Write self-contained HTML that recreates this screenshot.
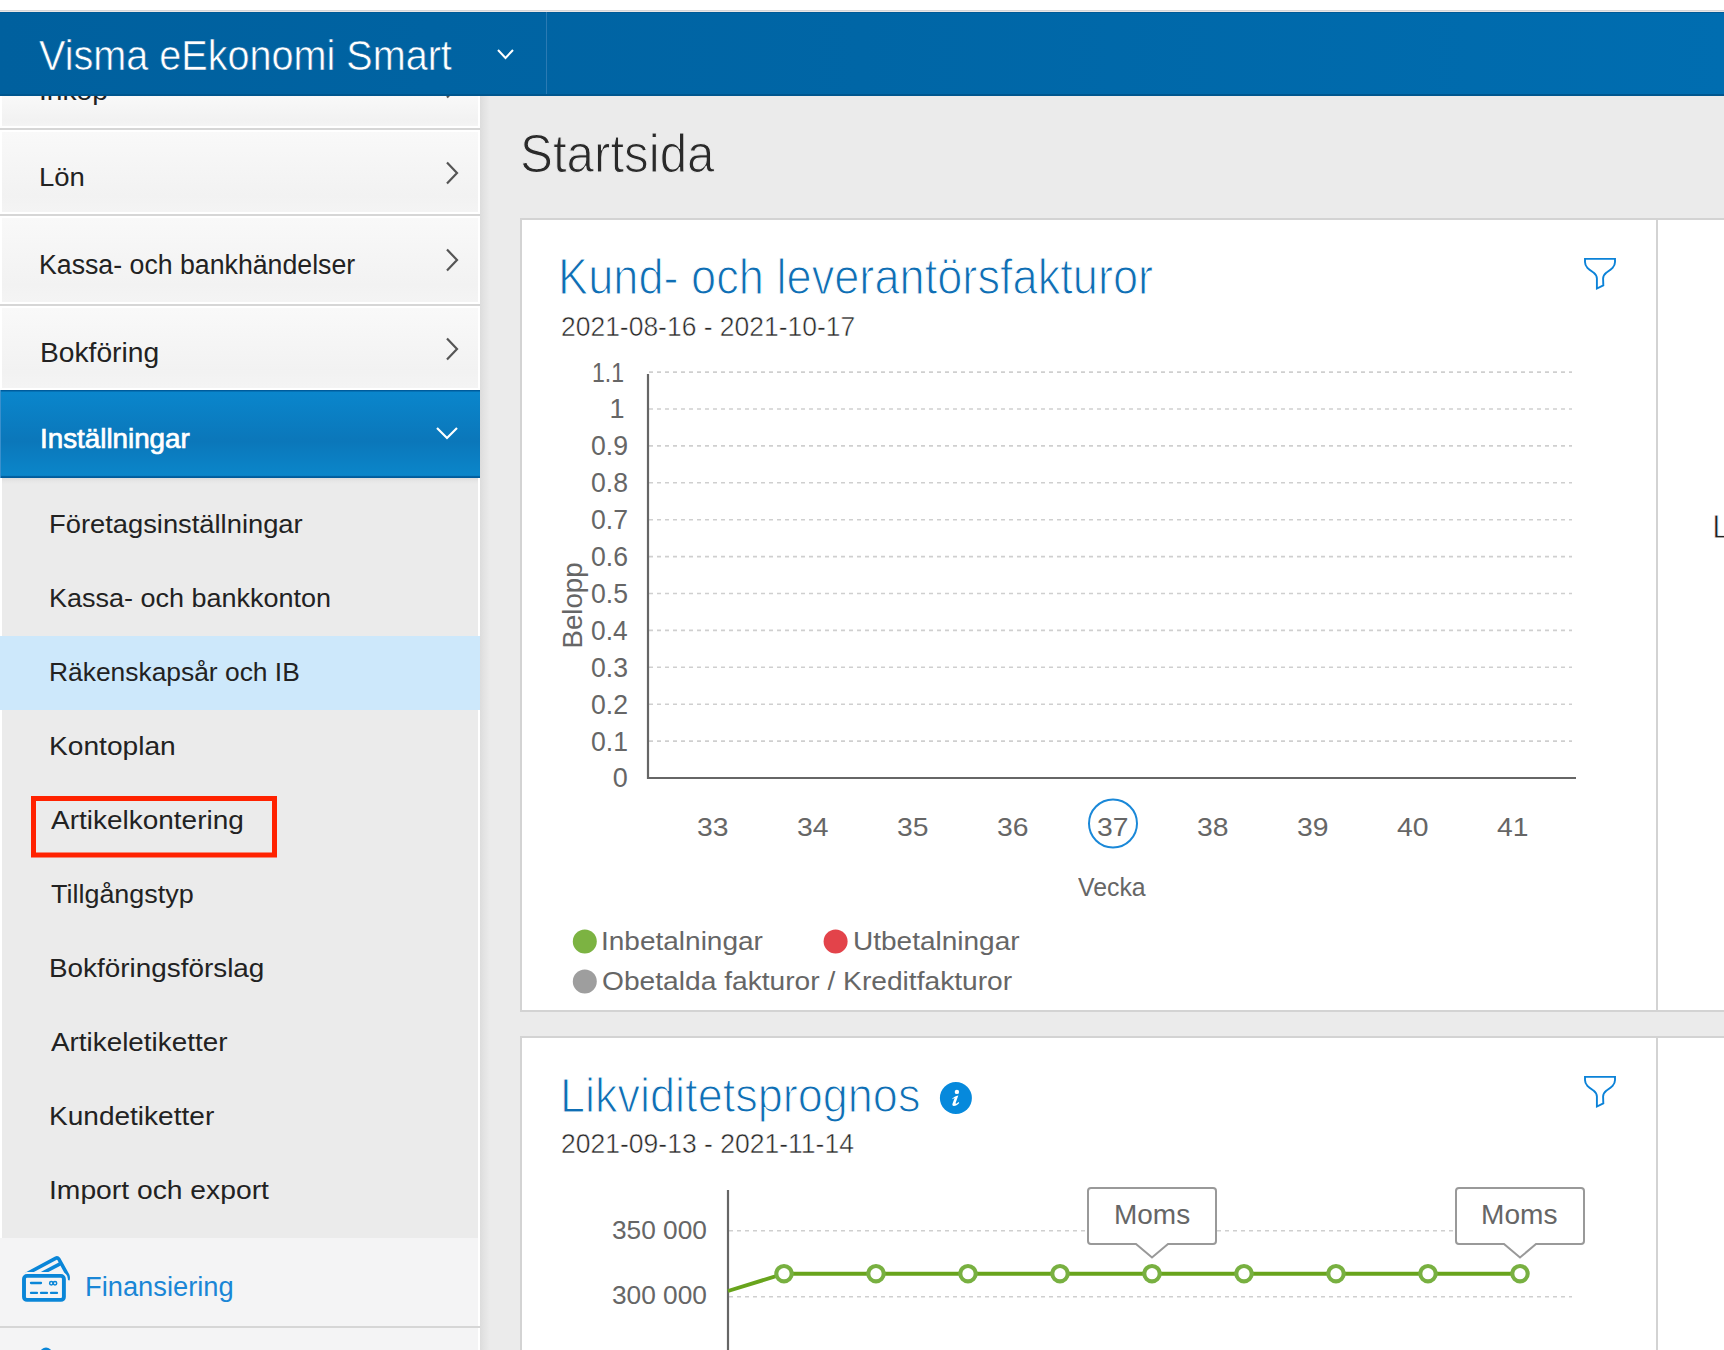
<!DOCTYPE html>
<html><head><meta charset="utf-8"><title>Visma eEkonomi Smart - Startsida</title>
<style>
html,body{margin:0;padding:0}
body{width:1724px;height:1350px;overflow:hidden;position:relative;background:#ebebeb;font-family:"Liberation Sans",sans-serif}
.abs{position:absolute}
.t{position:absolute;white-space:nowrap;transform-origin:0 0;font-family:"Liberation Sans",sans-serif;z-index:2}
svg.abs{z-index:1}
#topstrip{left:0;top:0;width:1724px;height:10px;background:#fff;border-bottom:1px solid #d4d5d8;box-shadow:0 1px 0 #e9e6e5}
#header{left:0;top:12px;width:1724px;height:84px;background:linear-gradient(90deg,#00609e 0%,#0066a6 50%,#006db0 100%);box-shadow:inset 0 -2px 0 #00568e}
#hsep{left:546px;top:12px;width:1px;height:82px;background:#2b7ab3}
#sidebar{left:0;top:96px;width:480px;height:1254px;background:#fff}
.item{position:absolute;left:2px;width:476px;background:linear-gradient(#f9f9f9,#f5f5f5 45%,#f2f2f2 80%,#f4f4f4)}
.sep{position:absolute;left:0;width:480px;height:2px;background:#d6d6d6}
#active{left:0;top:390px;width:480px;height:88px;background:linear-gradient(#005c9c 0,#005c9c 1px,#0a86cc 2px,#0b77ba 58%,#0b86ca 97%,#005c9c 98.5%);box-shadow:inset 1px 0 0 #3a8fcc}
#submenu{left:2px;top:478px;width:476px;height:760px;background:linear-gradient(#dcdcdc 0,#e6e6e6 3px,#ebebeb 6px)}
#hl{left:0;top:636px;width:480px;height:74px;background:#cde8fb}
#shadow{left:480px;top:96px;width:10px;height:1254px;background:linear-gradient(90deg,#dcdcdc 0,#e3e3e3 4px,#ebebeb 10px)}
#card1{left:520px;top:218px;width:1204px;height:794px;background:#fff;box-sizing:border-box;border:2px solid #d3d3d3;border-right:none}
#card2{left:520px;top:1036px;width:1204px;height:400px;background:#fff;box-sizing:border-box;border:2px solid #d3d3d3;border-right:none}
.vdiv{position:absolute;left:1656px;width:2px;background:#d3d3d3}
</style></head>
<body>
<div id="topstrip" class="abs"></div>
<div id="header" class="abs"></div>
<div id="hsep" class="abs"></div>
<div id="sidebar" class="abs">
</div>
<div class="item" style="top:96px;height:30px"></div>
<div class="sep" style="top:128px"></div>
<div class="item" style="top:132px;height:80px"></div>
<div class="sep" style="top:214px"></div>
<div class="item" style="top:218px;height:84px"></div>
<div class="sep" style="top:304px"></div>
<div class="item" style="top:308px;height:80px"></div>
<div id="active" class="abs"></div>
<div id="submenu" class="abs"></div>
<div id="hl" class="abs"></div>
<div class="item" style="top:1238px;left:0;width:478px;height:88px;background:#f4f4f5"></div>
<div class="sep" style="top:1326px"></div>
<div class="item" style="top:1328px;left:0;width:478px;height:22px;background:#f4f4f5"></div>
<div id="shadow" class="abs"></div>
<div id="card1" class="abs"></div>
<div class="vdiv" style="top:220px;height:790px"></div>
<div id="card2" class="abs"></div>
<div class="vdiv" style="top:1038px;height:312px"></div>
<span class="t" style="z-index:6;left:39.30px;top:34.70px;font-size:41.96px;line-height:42px;color:#fff;font-weight:normal;transform:scaleX(0.9435);-webkit-text-stroke:0.6px #0062a0;">Visma eEkonomi Smart</span>
<span class="t" style="left:39.20px;top:77.50px;font-size:26.60px;line-height:27px;color:#222;font-weight:normal;transform:scaleX(1.0597);">Inköp</span>
<span class="t" style="left:39.25px;top:163.60px;font-size:26.60px;line-height:27px;color:#222;font-weight:normal;transform:scaleX(1.0343);">Lön</span>
<span class="t" style="left:39.31px;top:251.80px;font-size:26.74px;line-height:27px;color:#222;font-weight:normal;transform:scaleX(0.9988);">Kassa- och bankhändelser</span>
<span class="t" style="left:39.60px;top:338.50px;font-size:27.59px;line-height:28px;color:#222;font-weight:normal;transform:scaleX(1.0225);">Bokföring</span>
<span class="t" style="left:39.63px;top:424.80px;font-size:27.31px;line-height:27px;color:#fff;font-weight:normal;transform:scaleX(1.0174);-webkit-text-stroke:0.7px #fff;">Inställningar</span>
<span class="t" style="left:49.17px;top:511.40px;font-size:26.60px;line-height:27px;color:#222;font-weight:normal;transform:scaleX(1.0275);">Företagsinställningar</span>
<span class="t" style="left:49.19px;top:585.40px;font-size:26.60px;line-height:27px;color:#222;font-weight:normal;transform:scaleX(1.0146);">Kassa- och bankkonton</span>
<span class="t" style="left:49.24px;top:659.40px;font-size:26.60px;line-height:27px;color:#222;font-weight:normal;transform:scaleX(0.9920);">Räkenskapsår och IB</span>
<span class="t" style="left:49.10px;top:733.40px;font-size:26.60px;line-height:27px;color:#222;font-weight:normal;transform:scaleX(1.0584);">Kontoplan</span>
<span class="t" style="left:51.30px;top:807.40px;font-size:26.60px;line-height:27px;color:#222;font-weight:normal;transform:scaleX(1.0517);">Artikelkontering</span>
<span class="t" style="left:50.88px;top:881.40px;font-size:26.60px;line-height:27px;color:#222;font-weight:normal;transform:scaleX(1.0127);">Tillgångstyp</span>
<span class="t" style="left:49.12px;top:955.40px;font-size:26.60px;line-height:27px;color:#222;font-weight:normal;transform:scaleX(1.0480);">Bokföringsförslag</span>
<span class="t" style="left:51.30px;top:1029.40px;font-size:26.60px;line-height:27px;color:#222;font-weight:normal;transform:scaleX(1.0471);">Artikeletiketter</span>
<span class="t" style="left:49.11px;top:1103.40px;font-size:26.60px;line-height:27px;color:#222;font-weight:normal;transform:scaleX(1.0543);">Kundetiketter</span>
<span class="t" style="left:49.09px;top:1177.40px;font-size:26.60px;line-height:27px;color:#222;font-weight:normal;transform:scaleX(1.0626);">Import och export</span>
<span class="t" style="left:84.87px;top:1273.00px;font-size:28.16px;line-height:28px;color:#1a86d6;font-weight:normal;transform:scaleX(0.9692);">Finansiering</span>
<span class="t" style="left:519.61px;top:127.15px;font-size:54.33px;line-height:54px;color:#2a2a2a;font-weight:normal;transform:scaleX(0.9073);-webkit-text-stroke:1.1px #ebebeb;">Startsida</span>
<span class="t" style="left:558.37px;top:252.40px;font-size:50.06px;line-height:50px;color:#0f6eb4;font-weight:normal;transform:scaleX(0.9027);-webkit-text-stroke:1.2px #fff;">Kund- och leverantörsfakturor</span>
<span class="t" style="left:561.01px;top:312.75px;font-size:27.16px;line-height:27px;color:#2a2a2a;font-weight:normal;transform:scaleX(0.9744);-webkit-text-stroke:0.5px #fff;">2021-08-16 - 2021-10-17</span>
<span class="t" style="left:559.58px;top:1071.60px;font-size:47.22px;line-height:47px;color:#0f6eb4;font-weight:normal;transform:scaleX(0.9536);-webkit-text-stroke:1.2px #fff;">Likviditetsprognos</span>
<span class="t" style="left:561.01px;top:1130.45px;font-size:28.02px;line-height:28px;color:#2a2a2a;font-weight:normal;transform:scaleX(0.9465);-webkit-text-stroke:0.5px #fff;">2021-09-13 - 2021-11-14</span>
<span class="t" style="left:591.86px;top:359.50px;font-size:27.02px;line-height:27px;color:#666;font-weight:normal;transform:scaleX(0.8539);">1.1</span>
<span class="t" style="left:609.57px;top:396.40px;font-size:27.02px;line-height:27px;color:#666;font-weight:normal;transform:scaleX(1.0000);">1</span>
<span class="t" style="left:591.17px;top:433.30px;font-size:27.02px;line-height:27px;color:#666;font-weight:normal;transform:scaleX(0.9853);">0.9</span>
<span class="t" style="left:591.17px;top:470.20px;font-size:27.02px;line-height:27px;color:#666;font-weight:normal;transform:scaleX(0.9853);">0.8</span>
<span class="t" style="left:591.17px;top:507.10px;font-size:27.02px;line-height:27px;color:#666;font-weight:normal;transform:scaleX(0.9853);">0.7</span>
<span class="t" style="left:591.17px;top:544.00px;font-size:27.02px;line-height:27px;color:#666;font-weight:normal;transform:scaleX(0.9853);">0.6</span>
<span class="t" style="left:591.17px;top:580.90px;font-size:27.02px;line-height:27px;color:#666;font-weight:normal;transform:scaleX(0.9853);">0.5</span>
<span class="t" style="left:591.18px;top:617.80px;font-size:27.02px;line-height:27px;color:#666;font-weight:normal;transform:scaleX(0.9737);">0.4</span>
<span class="t" style="left:591.17px;top:654.70px;font-size:27.02px;line-height:27px;color:#666;font-weight:normal;transform:scaleX(0.9853);">0.3</span>
<span class="t" style="left:591.17px;top:691.60px;font-size:27.02px;line-height:27px;color:#666;font-weight:normal;transform:scaleX(0.9853);">0.2</span>
<span class="t" style="left:591.17px;top:728.50px;font-size:27.02px;line-height:27px;color:#666;font-weight:normal;transform:scaleX(0.9853);">0.1</span>
<span class="t" style="left:612.74px;top:765.40px;font-size:27.02px;line-height:27px;color:#666;font-weight:normal;transform:scaleX(1.0000);">0</span>
<span class="t" style="left:697.08px;top:813.50px;font-size:25.74px;line-height:26px;color:#666;font-weight:normal;transform:scaleX(1.1000);">33</span>
<span class="t" style="left:796.86px;top:813.50px;font-size:25.74px;line-height:26px;color:#666;font-weight:normal;transform:scaleX(1.1000);">34</span>
<span class="t" style="left:897.08px;top:813.50px;font-size:25.74px;line-height:26px;color:#666;font-weight:normal;transform:scaleX(1.1000);">35</span>
<span class="t" style="left:997.08px;top:813.50px;font-size:25.74px;line-height:26px;color:#666;font-weight:normal;transform:scaleX(1.1000);">36</span>
<span class="t" style="left:1097.08px;top:813.50px;font-size:25.74px;line-height:26px;color:#666;font-weight:normal;transform:scaleX(1.1000);">37</span>
<span class="t" style="left:1197.08px;top:813.50px;font-size:25.74px;line-height:26px;color:#666;font-weight:normal;transform:scaleX(1.1000);">38</span>
<span class="t" style="left:1297.08px;top:813.50px;font-size:25.74px;line-height:26px;color:#666;font-weight:normal;transform:scaleX(1.1000);">39</span>
<span class="t" style="left:1397.08px;top:813.50px;font-size:25.74px;line-height:26px;color:#666;font-weight:normal;transform:scaleX(1.1000);">40</span>
<span class="t" style="left:1497.30px;top:813.50px;font-size:25.74px;line-height:26px;color:#666;font-weight:normal;transform:scaleX(1.1000);">41</span>
<span class="t" style="left:1077.70px;top:874.20px;font-size:26.17px;line-height:26px;color:#666;font-weight:normal;transform:scaleX(0.9489);">Vecka</span>
<span class="t" style="left:601.01px;top:928.00px;font-size:25.60px;line-height:26px;color:#666;font-weight:normal;transform:scaleX(1.0939);">Inbetalningar</span>
<span class="t" style="left:852.55px;top:928.00px;font-size:25.60px;line-height:26px;color:#666;font-weight:normal;transform:scaleX(1.0940);">Utbetalningar</span>
<span class="t" style="left:601.88px;top:967.50px;font-size:25.60px;line-height:26px;color:#666;font-weight:normal;transform:scaleX(1.1005);">Obetalda fakturor / Kreditfakturor</span>
<span class="t" style="left:611.68px;top:1216.80px;font-size:26.31px;line-height:26px;color:#666;font-weight:normal;transform:scaleX(0.9986);">350 000</span>
<span class="t" style="left:611.68px;top:1282.40px;font-size:26.17px;line-height:26px;color:#666;font-weight:normal;transform:scaleX(1.0040);">300 000</span>
<span class="t" style="left:1113.51px;top:1201.00px;font-size:27.31px;line-height:27px;color:#666;font-weight:normal;transform:scaleX(1.0246);">Moms</span>
<span class="t" style="left:1481.41px;top:1201.00px;font-size:27.31px;line-height:27px;color:#666;font-weight:normal;transform:scaleX(1.0288);">Moms</span>
<span class="t" style="left:1711.98px;top:509.60px;font-size:33.56px;line-height:34px;color:#222;font-weight:normal;transform:scaleX(1.0000);-webkit-text-stroke:0.8px #fff;">L</span>
<svg class="abs" style="left:0;top:0" width="1724" height="1350" viewBox="0 0 1724 1350">
<line x1="649" y1="372.1" x2="1572" y2="372.1" stroke="#cfcfcf" stroke-width="1.6" stroke-dasharray="4 4"/><line x1="649" y1="409.0" x2="1572" y2="409.0" stroke="#cfcfcf" stroke-width="1.6" stroke-dasharray="4 4"/><line x1="649" y1="445.9" x2="1572" y2="445.9" stroke="#cfcfcf" stroke-width="1.6" stroke-dasharray="4 4"/><line x1="649" y1="482.8" x2="1572" y2="482.8" stroke="#cfcfcf" stroke-width="1.6" stroke-dasharray="4 4"/><line x1="649" y1="519.7" x2="1572" y2="519.7" stroke="#cfcfcf" stroke-width="1.6" stroke-dasharray="4 4"/><line x1="649" y1="556.6" x2="1572" y2="556.6" stroke="#cfcfcf" stroke-width="1.6" stroke-dasharray="4 4"/><line x1="649" y1="593.5" x2="1572" y2="593.5" stroke="#cfcfcf" stroke-width="1.6" stroke-dasharray="4 4"/><line x1="649" y1="630.4" x2="1572" y2="630.4" stroke="#cfcfcf" stroke-width="1.6" stroke-dasharray="4 4"/><line x1="649" y1="667.3" x2="1572" y2="667.3" stroke="#cfcfcf" stroke-width="1.6" stroke-dasharray="4 4"/><line x1="649" y1="704.2" x2="1572" y2="704.2" stroke="#cfcfcf" stroke-width="1.6" stroke-dasharray="4 4"/><line x1="649" y1="741.1" x2="1572" y2="741.1" stroke="#cfcfcf" stroke-width="1.6" stroke-dasharray="4 4"/>
<line x1="648" y1="374" x2="648" y2="779" stroke="#666" stroke-width="2.2"/>
<line x1="647" y1="778" x2="1576" y2="778" stroke="#666" stroke-width="2.2"/>
<circle cx="1113" cy="823.5" r="24" fill="none" stroke="#1a88d8" stroke-width="2"/>
<circle cx="584.8" cy="941.5" r="12" fill="#7cb342"/>
<circle cx="835.6" cy="941.5" r="12" fill="#e3434a"/>
<circle cx="584.8" cy="981.5" r="12" fill="#9e9e9e"/>
<g transform="translate(582 647) rotate(-90)"><text x="-1.5" y="0" font-family="Liberation Sans" font-size="27.6" fill="#666" textLength="86" lengthAdjust="spacingAndGlyphs">Belopp</text></g>
<!-- filter icons -->
<path d="M1585 258.9 H1615 V262 C1615 267 1611 269.5 1606.5 272.5 C1604 274.5 1603.1 276 1603.1 278.5 L1603.3 285.4 L1596.9 288.5 L1596.9 278.5 C1596.9 276 1596 274.5 1593.5 272.5 C1589 269.5 1585 267 1585 262 Z" fill="none" stroke="#0b82d8" stroke-width="1.9" stroke-linejoin="miter"/>
<path transform="translate(0 818)" d="M1585 258.9 H1615 V262 C1615 267 1611 269.5 1606.5 272.5 C1604 274.5 1603.1 276 1603.1 278.5 L1603.3 285.4 L1596.9 288.5 L1596.9 278.5 C1596.9 276 1596 274.5 1593.5 272.5 C1589 269.5 1585 267 1585 262 Z" fill="none" stroke="#0b82d8" stroke-width="1.9" stroke-linejoin="miter"/>
<!-- chart 2 -->
<line x1="729" y1="1230.7" x2="1572" y2="1230.7" stroke="#cfcfcf" stroke-width="1.6" stroke-dasharray="4 4"/>
<line x1="729" y1="1296.7" x2="1572" y2="1296.7" stroke="#cfcfcf" stroke-width="1.6" stroke-dasharray="4 4"/>
<line x1="728" y1="1190" x2="728" y2="1350" stroke="#666" stroke-width="2.2"/>
<polyline points="728,1291 784,1273.7 1520,1273.7" fill="none" stroke="#68a41c" stroke-width="3.9"/>
<circle cx="784" cy="1273.7" r="7.7" fill="#fff" stroke="#78b041" stroke-width="4.1"/><circle cx="876" cy="1273.7" r="7.7" fill="#fff" stroke="#78b041" stroke-width="4.1"/><circle cx="968" cy="1273.7" r="7.7" fill="#fff" stroke="#78b041" stroke-width="4.1"/><circle cx="1060" cy="1273.7" r="7.7" fill="#fff" stroke="#78b041" stroke-width="4.1"/><circle cx="1152" cy="1273.7" r="7.7" fill="#fff" stroke="#78b041" stroke-width="4.1"/><circle cx="1244" cy="1273.7" r="7.7" fill="#fff" stroke="#78b041" stroke-width="4.1"/><circle cx="1336" cy="1273.7" r="7.7" fill="#fff" stroke="#78b041" stroke-width="4.1"/><circle cx="1428" cy="1273.7" r="7.7" fill="#fff" stroke="#78b041" stroke-width="4.1"/><circle cx="1520" cy="1273.7" r="7.7" fill="#fff" stroke="#78b041" stroke-width="4.1"/>
<path d="M1091 1188 H1213 Q1216 1188 1216 1191 V1241 Q1216 1244 1213 1244 H1168 L1152 1257.5 L1136 1244 H1091 Q1088 1244 1088 1241 V1191 Q1088 1188 1091 1188 Z" fill="#fff" stroke="#999" stroke-width="2"/>
<path d="M1459 1188 H1581 Q1584 1188 1584 1191 V1241 Q1584 1244 1581 1244 H1536 L1520 1257.5 L1504 1244 H1459 Q1456 1244 1456 1241 V1191 Q1456 1188 1459 1188 Z" fill="#fff" stroke="#999" stroke-width="2"/>
<circle cx="955.9" cy="1098" r="16" fill="#0689dc"/>
<circle cx="956.9" cy="1091.9" r="2.2" fill="#fff"/>
<path d="M952.2 1098.8 C953.5 1097.2 955.5 1096 958.3 1095.4 L955.7 1102.8 C955.4 1103.7 955.9 1104 956.6 1103.6 L958.7 1101.9 L959.2 1103.1 C957.6 1104.9 955.6 1106.1 953.9 1106.1 C952.5 1106 952.1 1105 952.5 1103.8 L954.6 1098 C953.9 1098.1 953.1 1098.6 952.6 1099.3 Z" fill="#fff"/>
<!-- chevrons -->
<polyline points="447,162.5 457,173 447,183.5" fill="none" stroke="#555" stroke-width="2.2"/>
<polyline points="447,249.5 457,260 447,270.5" fill="none" stroke="#555" stroke-width="2.2"/>
<polyline points="447,338.5 457,349 447,359.5" fill="none" stroke="#555" stroke-width="2.2"/>
<polyline points="437,428 447,438 457,428" fill="none" stroke="#fff" stroke-width="2.2"/>
<polyline points="447,76.5 457,87 447,97.5" fill="none" stroke="#555" stroke-width="2.2"/>
<!-- red box -->
<rect x="33.5" y="798.5" width="241" height="56.5" fill="none" stroke="#ff2200" stroke-width="5"/>
<!-- finansiering icon -->
<g fill="none" stroke="#0a86d8" stroke-linecap="butt" stroke-linejoin="round">
<path d="M23.6 1275.5 L55.5 1258.3 Q57.5 1257.3 58.8 1259 L67.6 1275 Q68.6 1277.3 67.8 1280" stroke-width="3.6"/>
<path d="M38 1275.5 L60 1263.8" stroke-width="3.6"/>
<rect x="24" y="1275.9" width="39.9" height="24" rx="3" stroke="#f4f4f5" stroke-width="8"/>
<rect x="24" y="1275.9" width="39.9" height="24" rx="3" fill="#f4f4f5" stroke-width="3.9"/>
<path d="M31 1283 H41" stroke-width="2.3" stroke-linecap="round"/>
<path d="M31 1292.9 H37 M41 1292.9 H47 M51 1292.9 H57" stroke-width="2.3" stroke-linecap="round"/>
<circle cx="51.3" cy="1283.3" r="1.7" stroke-width="1.5"/>
<circle cx="55" cy="1283.3" r="1.7" stroke-width="1.5"/>
</g>
<circle cx="46" cy="1353.5" r="6" fill="#0a86d8"/>
</svg>
<div id="header2" class="abs" style="left:0;top:12px;width:1724px;height:84px;background:linear-gradient(90deg,#00609e 0%,#0066a6 50%,#006db0 100%);box-shadow:inset 0 -2px 0 #00568e,inset 0 1px 0 #005a98;z-index:5"></div>
<svg class="abs" style="left:0;top:0;z-index:6" width="600" height="100"><line x1="546.5" y1="12" x2="546.5" y2="94" stroke="#2b7ab3" stroke-width="1"/><polyline points="498,50 505.5,58 513,50" fill="none" stroke="#fff" stroke-width="2"/></svg>
</body></html>
